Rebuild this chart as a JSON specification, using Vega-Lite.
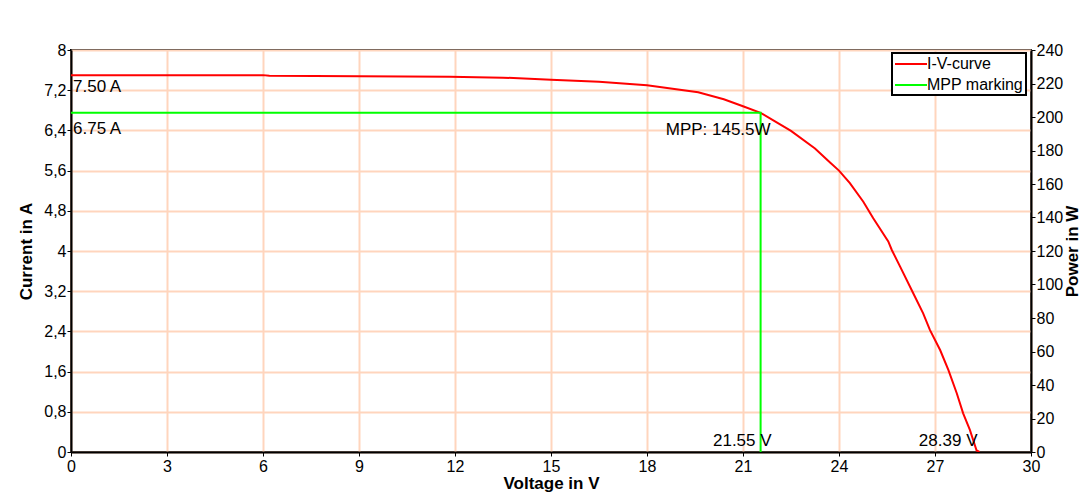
{
  "$schema": "https://vega.github.io/schema/vega-lite/v6.json",
  "width": 960,
  "height": 402,
  "autosize": "none",
  "padding": {"left": 71, "top": 50, "right": 50, "bottom": 45},
  "background": "white",
  "config": {
    "font": "Liberation Sans",
    "view": {"stroke": "black", "strokeWidth": 2},
    "axis": {
      "domainColor": "black", "domainWidth": 2,
      "tickColor": "black", "tickSize": 4, "tickWidth": 1,
      "labelFont": "Liberation Sans", "labelFontSize": 16, "labelColor": "black", "labelFlush": false,
      "titleFont": "Liberation Sans", "titleFontSize": 17, "titleFontWeight": "bold", "titleColor": "black",
      "gridColor": "#ffd5bd", "gridWidth": 2, "gridOpacity": 1
    },
    "legend": {
      "strokeColor": "black", "strokeWidth": 2, "fillColor": "white",
      "padding": 2, "labelFontSize": 16, "labelFont": "Liberation Sans", "labelColor": "black",
      "labelOffset": 15, "rowPadding": 4, "symbolType": "M-1,0H3", "symbolSize": 256, "symbolStrokeWidth": 2
    }
  },
  "datasets": {
    "curves": [
      {"V": 0, "I": 7.50, "series": "I-V-curve", "order": 0},
      {"V": 3, "I": 7.50, "series": "I-V-curve", "order": 1},
      {"V": 6, "I": 7.50, "series": "I-V-curve", "order": 2},
      {"V": 6.2, "I": 7.49, "series": "I-V-curve", "order": 3},
      {"V": 9, "I": 7.48, "series": "I-V-curve", "order": 4},
      {"V": 11.84, "I": 7.47, "series": "I-V-curve", "order": 5},
      {"V": 13.5, "I": 7.45, "series": "I-V-curve", "order": 6},
      {"V": 15, "I": 7.41, "series": "I-V-curve", "order": 7},
      {"V": 16.5, "I": 7.37, "series": "I-V-curve", "order": 8},
      {"V": 18, "I": 7.30, "series": "I-V-curve", "order": 9},
      {"V": 19.6, "I": 7.16, "series": "I-V-curve", "order": 10},
      {"V": 20.4, "I": 7.02, "series": "I-V-curve", "order": 11},
      {"V": 21, "I": 6.88, "series": "I-V-curve", "order": 12},
      {"V": 21.55, "I": 6.75, "series": "I-V-curve", "order": 13},
      {"V": 22, "I": 6.58, "series": "I-V-curve", "order": 14},
      {"V": 22.5, "I": 6.39, "series": "I-V-curve", "order": 15},
      {"V": 23.25, "I": 6.04, "series": "I-V-curve", "order": 16},
      {"V": 23.72, "I": 5.76, "series": "I-V-curve", "order": 17},
      {"V": 24, "I": 5.60, "series": "I-V-curve", "order": 18},
      {"V": 24.34, "I": 5.35, "series": "I-V-curve", "order": 19},
      {"V": 24.76, "I": 4.98, "series": "I-V-curve", "order": 20},
      {"V": 25.07, "I": 4.65, "series": "I-V-curve", "order": 21},
      {"V": 25.54, "I": 4.19, "series": "I-V-curve", "order": 22},
      {"V": 25.65, "I": 4.02, "series": "I-V-curve", "order": 23},
      {"V": 25.91, "I": 3.69, "series": "I-V-curve", "order": 24},
      {"V": 26.32, "I": 3.16, "series": "I-V-curve", "order": 25},
      {"V": 26.63, "I": 2.76, "series": "I-V-curve", "order": 26},
      {"V": 26.84, "I": 2.43, "series": "I-V-curve", "order": 27},
      {"V": 27.16, "I": 2.03, "series": "I-V-curve", "order": 28},
      {"V": 27.42, "I": 1.63, "series": "I-V-curve", "order": 29},
      {"V": 27.68, "I": 1.17, "series": "I-V-curve", "order": 30},
      {"V": 27.88, "I": 0.77, "series": "I-V-curve", "order": 31},
      {"V": 28.09, "I": 0.44, "series": "I-V-curve", "order": 32},
      {"V": 28.3, "I": 0.03, "series": "I-V-curve", "order": 33},
      {"V": 28.39, "I": 0.0, "series": "I-V-curve", "order": 34},
      {"V": 0, "I": 6.75, "series": "MPP marking", "order": 0},
      {"V": 21.55, "I": 6.75, "series": "MPP marking", "order": 1},
      {"V": 21.55, "I": 0, "series": "MPP marking", "order": 2}
    ],
    "iscLabel": [{"V": 0, "I": 7.50, "label": "7.50 A"}],
    "impLabel": [{"V": 0, "I": 6.75, "label": "6.75 A"}],
    "mppLabel": [{"V": 21.55, "I": 6.75, "label": "MPP: 145.5W"}],
    "vmpLabel": [{"V": 21.55, "I": 0, "label": "21.55 V"}],
    "vocLabel": [{"V": 28.39, "I": 0, "label": "28.39 V"}],
    "power": [{"V": 0, "P": 0}, {"V": 30, "P": 240}]
  },
  "layer": [
    {
      "layer": [
        {
          "data": {"name": "curves"},
          "mark": {"type": "line", "strokeWidth": 2, "clip": true},
          "encoding": {
            "x": {"field": "V", "type": "quantitative", "scale": {"domain": [0, 30], "nice": false},
                  "axis": {"title": "Voltage in V", "values": [0,3,6,9,12,15,18,21,24,27,30], "labelPadding": 2, "titlePadding": 1}},
            "y": {"field": "I", "type": "quantitative", "scale": {"domain": [0, 8], "nice": false},
                  "axis": {"title": "Current in A", "values": [0,0.8,1.6,2.4,3.2,4,4.8,5.6,6.4,7.2,8],
                           "labelExpr": "replace('' + datum.value, '.', ',')", "labelPadding": 1, "titlePadding": 8}},
            "color": {"field": "series", "type": "nominal",
                      "scale": {"domain": ["I-V-curve", "MPP marking"], "range": ["#ff0000", "#00ff00"]},
                      "legend": {"title": null, "orient": "none", "legendX": 821, "legendY": 3}},
            "order": {"field": "order", "type": "quantitative"}
          }
        },
        {
          "data": {"name": "iscLabel"},
          "mark": {"type": "text", "align": "left", "baseline": "middle", "dx": 2, "dy": 12, "fontSize": 17, "color": "black"},
          "encoding": {
            "x": {"field": "V", "type": "quantitative"},
            "y": {"field": "I", "type": "quantitative"},
            "text": {"field": "label"}
          }
        },
        {
          "data": {"name": "impLabel"},
          "mark": {"type": "text", "align": "left", "baseline": "middle", "dx": 2, "dy": 16, "fontSize": 17, "color": "black"},
          "encoding": {
            "x": {"field": "V", "type": "quantitative"},
            "y": {"field": "I", "type": "quantitative"},
            "text": {"field": "label"}
          }
        },
        {
          "data": {"name": "mppLabel"},
          "mark": {"type": "text", "align": "right", "baseline": "middle", "dx": 10, "dy": 17, "fontSize": 17, "color": "black"},
          "encoding": {
            "x": {"field": "V", "type": "quantitative"},
            "y": {"field": "I", "type": "quantitative"},
            "text": {"field": "label"}
          }
        },
        {
          "data": {"name": "vmpLabel"},
          "mark": {"type": "text", "align": "right", "baseline": "middle", "dx": 11, "dy": -11, "fontSize": 17, "color": "black"},
          "encoding": {
            "x": {"field": "V", "type": "quantitative"},
            "y": {"field": "I", "type": "quantitative"},
            "text": {"field": "label"}
          }
        },
        {
          "data": {"name": "vocLabel"},
          "mark": {"type": "text", "align": "right", "baseline": "middle", "dx": -2, "dy": -11, "fontSize": 17, "color": "black"},
          "encoding": {
            "x": {"field": "V", "type": "quantitative"},
            "y": {"field": "I", "type": "quantitative"},
            "text": {"field": "label"}
          }
        }
      ]
    },
    {
      "data": {"name": "power"},
      "mark": {"type": "point", "opacity": 0},
      "encoding": {
        "x": {"field": "V", "type": "quantitative"},
        "y": {"field": "P", "type": "quantitative", "scale": {"domain": [0, 240], "nice": false},
              "axis": {"orient": "right", "title": "Power in W", "titleAngle": -90, "grid": false,
                       "titleX": 41, "titleY": 201, "titleAlign": "center", "titleBaseline": "middle",
                       "values": [0,20,40,60,80,100,120,140,160,180,200,220,240], "labelPadding": 1}}
      }
    }
  ],
  "resolve": {"scale": {"y": "independent"}}
}
